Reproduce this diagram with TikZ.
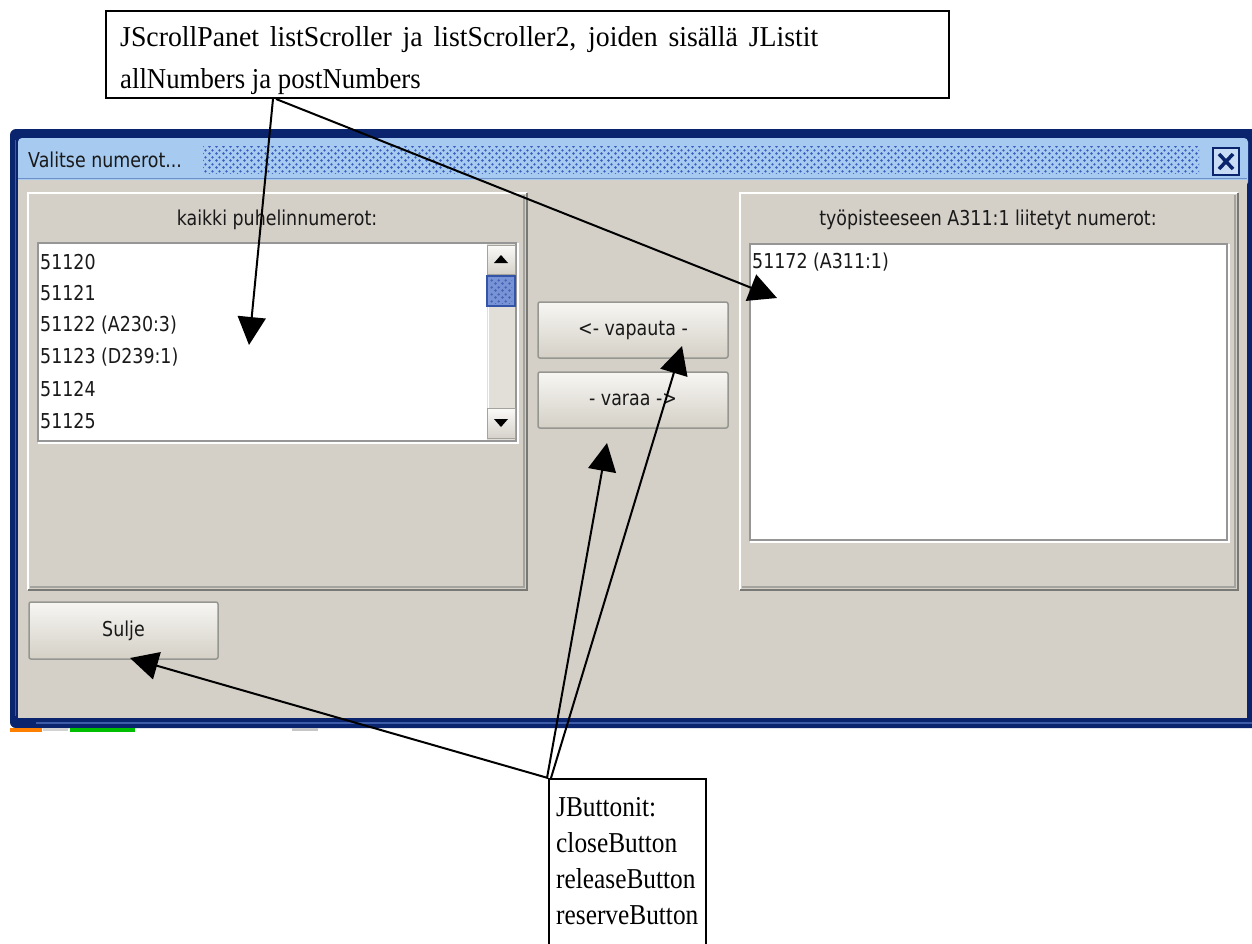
\documentclass[tikz,border=0pt]{standalone}
\usepackage{fontspec}
\setmainfont{Liberation Serif}
\newfontfamily\notefont[FakeStretch=0.88]{Liberation Serif}
\newfontfamily\headfont[FakeStretch=0.93]{Liberation Serif}
\newfontfamily\headwidefont[FakeStretch=0.965]{Liberation Serif}
\newfontfamily\uifont[FakeStretch=0.85]{DejaVu Sans}
\usetikzlibrary{arrows.meta,patterns.meta,calc}

\definecolor{winnavy}{RGB}{10,36,110}
\definecolor{winmid}{RGB}{60,92,170}
\definecolor{titleblue}{RGB}{166,202,240}
\definecolor{titledot}{RGB}{58,94,190}
\definecolor{titleline}{RGB}{112,144,200}
\definecolor{uigrey}{RGB}{212,208,200}
\definecolor{edgedark}{RGB}{120,120,116}
\definecolor{edgemid}{RGB}{165,163,158}
\definecolor{listedge}{RGB}{150,150,150}
\definecolor{trackgrey}{RGB}{226,223,216}
\definecolor{thumbblue}{RGB}{120,148,214}
\definecolor{thumbedge}{RGB}{52,84,168}
\definecolor{btnedge}{RGB}{150,150,145}
\definecolor{uitext}{RGB}{25,25,25}

% small diagonal dot grid used in the title bar and on the scroll thumb
\pgfdeclarepattern{
  name=xpdots, type=uncolored,
  bottom left={\pgfpoint{0pt}{0pt}}, top right={\pgfpoint{6.5pt}{6.5pt}},
  tile size={\pgfpoint{6.5pt}{6.5pt}},
  code={\pgfpathcircle{\pgfpoint{1.6pt}{1.6pt}}{1.4pt}
        \pgfpathcircle{\pgfpoint{4.85pt}{4.85pt}}{1.4pt}
        \pgfusepath{fill}}
}

\begin{document}
\begin{tikzpicture}[x=1pt,y=-1pt,
  callbox/.style={draw=black, line width=2pt, fill=white},
  calltext/.style={font=\notefont\fontsize{28.8}{36}\selectfont, align=left, inner sep=0pt},
  callarrow/.style={line width=2pt, -{Triangle[length=28pt,width=28pt]}},
  uitxt/.style={font=\uifont\fontsize{20.5}{24}\selectfont, text=uitext, inner sep=0pt},
  xpbtn/.style={draw=btnedge, line width=1.5pt, rounded corners=2pt,
    top color={rgb,255:red,247;green,246;blue,243},
    bottom color={rgb,255:red,212;green,208;blue,198},
    font=\uifont\fontsize{20.5}{24}\selectfont, text=uitext},
  sbbtn/.style={draw=edgemid, line width=1pt,
    top color={rgb,255:red,250;green,250;blue,248},
    bottom color={rgb,255:red,214;green,210;blue,202}},
  hi/.style={white, line width=2pt},
  lo/.style={edgedark, line width=2pt},
  lomid/.style={edgemid, line width=1.5pt}
]
\useasboundingbox (0,0) rectangle (1252,943);
\fill[white] (0,0) rectangle (1252,943);

% ---------- window frame and title bar ----------
\fill[winnavy, rounded corners=6pt] (10,129) rectangle (1258,728);
\draw[winmid, line width=1.5pt] (36,723) -- (1252,723);
\draw[winmid, line width=1pt] (15,140) -- (15,716);
\fill[titleblue, rounded corners=4pt] (18,138) rectangle (1248,186);
\fill[titleblue] (18,150) rectangle (1248,179);
\draw[titleline, line width=1.5pt] (18,178.5) -- (1247,178.5);
\fill[pattern={xpdots}, pattern color=titledot] (203,146) rectangle (1199,173);
\node[uitxt, anchor=west] (title) at (28,160) {Valitse numerot...};

% close box
\draw[winnavy, line width=2.5pt, fill={rgb,255:red,200;green,220;blue,245}]
  (1213,148) rectangle (1239,175);
\draw[winnavy, line width=3.5pt] (1219,154) -- (1233,169) (1233,154) -- (1219,169);

% content area
\fill[uigrey] (18,180) rectangle (1247,718);

% strip of the task bar below the window
\fill[orange] (10,728) rectangle (42,732);
\fill[gray!35] (43,728) rectangle (68,731);
\fill[green!75!black] (70,728) rectangle (135,732);
\fill[gray!45] (292,728) rectangle (318,731);

% ---------- left panel: all numbers ----------
\draw[hi] (28,590) -- (28,193) -- (527,193);
\draw[lo] (28,590) -- (527,590) -- (527,193);
\draw[lomid] (30,587) -- (524,587) -- (524,195);
\node[uitxt] (allhead) at (277,220) {kaikki puhelinnumerot:};

\fill[white] (38,243) rectangle (516,441);
\draw[listedge, line width=1.5pt] (38,243) rectangle (516,441);
\draw[white, line width=1.5pt] (38,443) -- (518,443) -- (518,243);

% scroll bar
\fill[trackgrey] (487,244) rectangle (515,440);
\draw[white, line width=1pt] (488,306) -- (488,408);
\draw[sbbtn] (487,245) rectangle (515,274);
\fill[black] (494,263) -- (508,263) -- (501,255) -- cycle;
\fill[thumbblue] (487,276) rectangle (515,306);
\fill[pattern={xpdots}, pattern color={rgb,255:red,70;green,100;blue,180}] (490,279) rectangle (512,303);
\draw[thumbedge, line width=1.5pt] (487,276) rectangle (515,306);
\draw[sbbtn] (487,408) rectangle (515,438);
\fill[black] (494,419) -- (508,419) -- (501,427) -- cycle;

\foreach \n/\txt/\yy in {a/51120/262, b/51121/293, c/{51122 (A230:3)}/325,
                         d/{51123 (D239:1)}/357, e/51124/389, f/51125/421}
  \node[uitxt, anchor=west] (item\n) at (40,\yy) {\txt};

% ---------- right panel: numbers of the work station ----------
\draw[hi] (740,590) -- (740,193) -- (1238,193);
\draw[lo] (740,590) -- (1238,590) -- (1238,193);
\draw[lomid] (742,587) -- (1235,587) -- (1235,195);
\node[uitxt] (posthead) at (988,220) {työpisteeseen A311:1 liitetyt numerot:};

\fill[white] (750,244) rectangle (1227,540);
\draw[listedge, line width=1.5pt] (750,244) rectangle (1227,540);
\draw[white, line width=1.5pt] (750,542) -- (1229,542) -- (1229,244);
\node[uitxt, anchor=west] (postitem) at (752,262) {51172 (A311:1)};

% ---------- buttons ----------
\node[xpbtn, minimum width=190pt, minimum height=56pt] (release) at (633,330) {<- vapauta -};
\node[xpbtn, minimum width=190pt, minimum height=56pt] (reserve) at (633,400) {- varaa ->};
\node[xpbtn, minimum width=189pt, minimum height=57pt] (close) at (123.5,630.5) {Sulje};

% ---------- callouts ----------
\node[callbox, anchor=north west, minimum width=843pt, minimum height=87pt] (topnote) at (105,10) {};
\node[calltext, font=\headfont\fontsize{28.8}{36}\selectfont, anchor=north west] (topnotetext) at (120,26)
  {\makebox[698pt][s]{\headwidefont JScrollPanet listScroller ja listScroller2, joiden sisällä JListit}\\[6pt]
   allNumbers ja postNumbers};

\node[callbox, anchor=north west, minimum width=157pt, minimum height=200pt] (btnnote) at (548,778) {};
\node[calltext, anchor=north west] (btntext) at (556,797)
  {JButtonit:\\closeButton\\releaseButton\\reserveButton};

% ---------- connectors ----------
\coordinate (topA) at ($(topnote.south west)+(168,0)$);
\coordinate (topB) at ($(topnote.south west)+(171,0)$);
\coordinate (listtip) at (249,345);
\coordinate (posttip) at (777,298);

\coordinate (btnA) at ($(btnnote.north west)+(0,0)$);
\coordinate (btnB) at ($(btnnote.north west)+(-1,0)$);
\coordinate (btnC) at ($(btnnote.north west)+(3,0)$);
\coordinate (closetip) at (130,658);
\coordinate (reservetip) at (607,443);
\coordinate (releasetip) at (682,346);

\draw[callarrow] (topA) -- (listtip);
\draw[callarrow] (topB) -- (posttip);
\draw[callarrow] (btnA) -- (closetip);
\draw[callarrow] (btnB) -- (reservetip);
\draw[callarrow] (btnC) -- (releasetip);
\end{tikzpicture}
\end{document}
